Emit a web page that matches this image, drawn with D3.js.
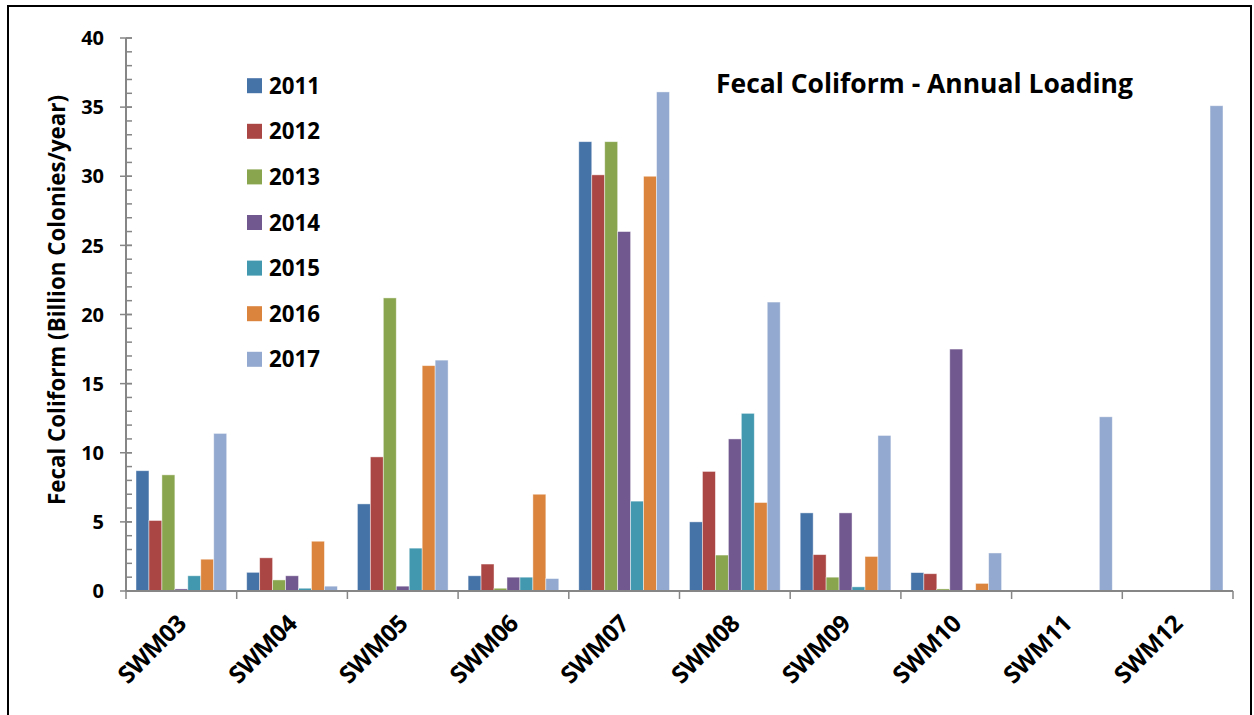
<!DOCTYPE html>
<html>
<head>
<meta charset="utf-8">
<script src="https://cdn.jsdelivr.net/npm/d3@7"></script>
<style>
  html, body { margin: 0; padding: 0; background: #fff; }
  svg { display: block; font-family: "Open Sans", "Liberation Sans", Arial, sans-serif; }
</style>
</head>
<body>
<svg id="chart" width="1254" height="715"></svg>
<script>
// Sampling stations along the x axis
const stations = ["SWM03", "SWM04", "SWM05", "SWM06", "SWM07", "SWM08", "SWM09", "SWM10", "SWM11", "SWM12"];
// Monitoring years (one bar per year in each station group)
const years = ["2011", "2012", "2013", "2014", "2015", "2016", "2017"];
// Annual fecal coliform loading, billion colonies/year (null = not sampled)
const load2011 = [8.7, 1.35, 6.3, 1.1, 32.5, 5.0, 5.65, 1.33, null, null];
const load2012 = [5.1, 2.4, 9.7, 1.95, 30.1, 8.65, 2.63, 1.25, null, null];
const load2013 = [8.4, 0.8, 21.2, 0.2, 32.5, 2.6, 1.0, 0.15, null, null];
const load2014 = [0.15, 1.1, 0.35, 1.0, 26.0, 11.0, 5.65, 17.5, null, null];
const load2015 = [1.1, 0.2, 3.1, 1.0, 6.5, 12.85, 0.3, 0.05, null, null];
const load2016 = [2.3, 3.6, 16.3, 7.0, 30.0, 6.4, 2.5, 0.55, null, null];
const load2017 = [11.4, 0.35, 16.7, 0.9, 36.1, 20.9, 11.25, 2.75, 12.6, 35.1];
const seriesValues = [load2011, load2012, load2013, load2014, load2015, load2016, load2017];
// Axis ticks
const yTicks = [0, 5, 10, 15, 20, 25, 30, 35, 40];
const colors = ["#4572A7", "#AA4643", "#89A54E", "#71588F", "#4198AF", "#DB843D", "#93A9CF"];

const svg = d3.select("#chart");
const axisColor = "#868686";

// Shrink or grow a text element's font so its rendered width equals `w`
function fitWidth(sel, w) {
  sel.each(function () {
    const fs = parseFloat(this.getAttribute("font-size"));
    const cur = this.getComputedTextLength();
    if (cur > 0) this.setAttribute("font-size", (fs * w / cur).toFixed(2));
  });
}

// Chart frame
svg.append("rect")
  .attr("x", 8).attr("y", 6)
  .attr("width", 1243).attr("height", 720)
  .attr("fill", "none").attr("stroke", "#000").attr("stroke-width", 2);

const plot = { left: 126, right: 1233, top: 38, bottom: 591 };

const x = d3.scaleBand().domain(stations).range([plot.left, plot.right]).padding(0);
const xInner = d3.scaleBand().domain(years)
  .range([10, x.bandwidth() - 10]).padding(0);
const y = d3.scaleLinear().domain([0, 40]).range([plot.bottom, plot.top]);

// Bars
const rows = [];
seriesValues.forEach((vals, si) => {
  vals.forEach((v, ci) => {
    if (v !== null) rows.push({ station: stations[ci], year: years[si], value: v, si });
  });
});

svg.append("g").selectAll("rect")
  .data(rows)
  .join("rect")
  .attr("x", d => x(d.station) + xInner(d.year))
  .attr("y", d => y(d.value))
  .attr("width", xInner.bandwidth())
  .attr("height", d => y(0) - y(d.value))
  .attr("fill", d => colors[d.si])
  .attr("stroke", "#ffffff")
  .attr("stroke-opacity", 0.55)
  .attr("stroke-width", 0.8);

// Y axis: minor ticks every unit, major ticks every 5
const yAxisG = svg.append("g");
yAxisG.append("line")
  .attr("x1", plot.left).attr("x2", plot.left)
  .attr("y1", y(40)).attr("y2", y(0))
  .attr("stroke", axisColor).attr("stroke-width", 2);
yAxisG.selectAll(".minor")
  .data(d3.range(0, 41))
  .join("line")
  .attr("x1", plot.left).attr("x2", plot.left + 6)
  .attr("y1", d => y(d)).attr("y2", d => y(d))
  .attr("stroke", axisColor).attr("stroke-width", 1.5);
yAxisG.selectAll(".major")
  .data(yTicks)
  .join("line")
  .attr("x1", plot.left - 6).attr("x2", plot.left + 6)
  .attr("y1", d => y(d)).attr("y2", d => y(d))
  .attr("stroke", axisColor).attr("stroke-width", 1.5);
yAxisG.selectAll("text")
  .data(yTicks)
  .join("text")
  .attr("x", 104)
  .attr("y", d => y(d))
  .attr("dy", "0.36em")
  .attr("text-anchor", "end")
  .attr("font-size", 20)
  .attr("font-weight", "bold")
  .text(d => d);

// X axis with ticks at group boundaries
const xAxisG = svg.append("g");
xAxisG.append("line")
  .attr("x1", plot.left).attr("x2", plot.right)
  .attr("y1", plot.bottom).attr("y2", plot.bottom)
  .attr("stroke", axisColor).attr("stroke-width", 2);
const bounds = stations.map(s => x(s)).concat([x(stations[stations.length - 1]) + x.bandwidth()]);
xAxisG.selectAll(".tick")
  .data(bounds)
  .join("line")
  .attr("x1", d => d).attr("x2", d => d)
  .attr("y1", plot.bottom).attr("y2", plot.bottom + 8)
  .attr("stroke", axisColor).attr("stroke-width", 1.5);
xAxisG.selectAll("text")
  .data(stations)
  .join("text")
  .attr("transform", d => `translate(${x(d) + x.bandwidth() / 2 - 6},${plot.bottom + 22}) rotate(-45)`)
  .attr("text-anchor", "end")
  .attr("dy", "0.72em")
  .attr("font-size", 20)
  .attr("font-weight", "bold")
  .attr("letter-spacing", -0.5)
  .text(d => d)
  .call(fitWidth, 84);

// Y axis title
svg.append("text")
  .attr("transform", `translate(65,300) rotate(-90)`)
  .attr("text-anchor", "middle")
  .attr("font-size", 18)
  .attr("font-weight", "bold")
  .text("Fecal Coliform (Billion Colonies/year)")
  .call(fitWidth, 410);

// Chart title
svg.append("text")
  .attr("x", 716).attr("y", 93)
  .attr("text-anchor", "start")
  .attr("font-size", 23)
  .attr("font-weight", "bold")
  .text("Fecal Coliform - Annual Loading")
  .call(fitWidth, 417);

// Legend
const legend = svg.append("g");
const leg = legend.selectAll("g")
  .data(years)
  .join("g")
  .attr("transform", (d, i) => `translate(247,${85.7 + i * 45.6})`);
leg.append("rect")
  .attr("x", 0).attr("y", -7.5)
  .attr("width", 15).attr("height", 15)
  .attr("fill", (d, i) => colors[i]);
leg.append("text")
  .attr("x", 22).attr("y", 0)
  .attr("dy", "0.36em")
  .attr("font-size", 22)
  .attr("font-weight", "bold")
  .text(d => d)
  .call(fitWidth, 51);
</script>
</body>
</html>
